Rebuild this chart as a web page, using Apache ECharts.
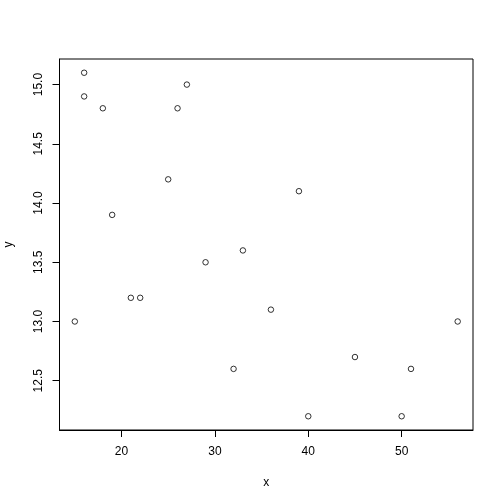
<!DOCTYPE html>
<html>
<head>
<meta charset="utf-8">
<script src="https://cdn.jsdelivr.net/npm/echarts@6/dist/echarts.min.js"></script>
<style>
  html, body { margin: 0; padding: 0; background: #fff; }
  #chart { width: 504px; height: 504px; }
</style>
</head>
<body>
<div id="chart"></div>
<script>
const xValues = [15, 16, 16, 18, 19, 21, 22, 25, 26, 27, 29, 32, 33, 36, 39, 40, 45, 50, 51, 56];
const yValues = [13.0, 15.1, 14.9, 14.8, 13.9, 13.2, 13.2, 14.2, 14.8, 15.0, 13.5, 12.6, 13.6, 13.1, 14.1, 12.2, 12.7, 12.2, 12.6, 13.0];
const xTicks = [20, 30, 40, 50];
const yTicks = [12.5, 13.0, 13.5, 14.0, 14.5, 15.0];

// R pads the data range by 4% on each side
function padRange(values) {
  const lo = Math.min(...values);
  const hi = Math.max(...values);
  const pad = (hi - lo) * 0.04;
  return [lo - pad, hi + pad];
}

const [xMin, xMax] = padRange(xValues);
const [yMin, yMax] = padRange(yValues);

const chart = echarts.init(document.getElementById("chart"));
const font = "Liberation Sans, Arial, sans-serif";

chart.setOption({
  animation: false,
  backgroundColor: "#fff",
  grid: {
    left: 59.5,
    right: 31,
    top: 59,
    bottom: 74,
    containLabel: false,
    outerBoundsMode: "none",
    show: true,
    borderColor: "#000",
    borderWidth: 1,
  },
  xAxis: {
    type: "value",
    min: xMin,
    max: xMax,
    name: "x",
    nameLocation: "middle",
    nameGap: 47,
    nameTextStyle: { color: "#000", fontFamily: font, fontSize: 12 },
    axisLine: { show: true, lineStyle: { color: "#000", width: 1 } },
    axisTick: { show: true, length: 7, customValues: xTicks, lineStyle: { color: "#000" } },
    axisLabel: {
      customValues: xTicks,
      margin: 16,
      color: "#000",
      fontFamily: font,
      fontSize: 12,
    },
    splitLine: { show: false },
  },
  yAxis: {
    type: "value",
    min: yMin,
    max: yMax,
    name: "y",
    nameLocation: "middle",
    nameGap: 45,
    nameTextStyle: { color: "#000", fontFamily: font, fontSize: 12 },
    axisLine: { show: true, lineStyle: { color: "#000", width: 1 } },
    axisTick: { show: true, length: 7, customValues: yTicks, lineStyle: { color: "#000" } },
    axisLabel: {
      customValues: yTicks,
      rotate: 90,
      margin: 15,
      color: "#000",
      fontFamily: font,
      fontSize: 12,
      formatter: (v) => v.toFixed(1),
    },
    splitLine: { show: false },
  },
  series: [
    {
      type: "scatter",
      data: xValues.map((x, i) => [x, yValues[i]]),
      symbol: "circle",
      symbolSize: 5.5,
      itemStyle: { color: "#fff", borderColor: "#000", borderWidth: 1 },
    },
  ],
});
</script>
</body>
</html>
